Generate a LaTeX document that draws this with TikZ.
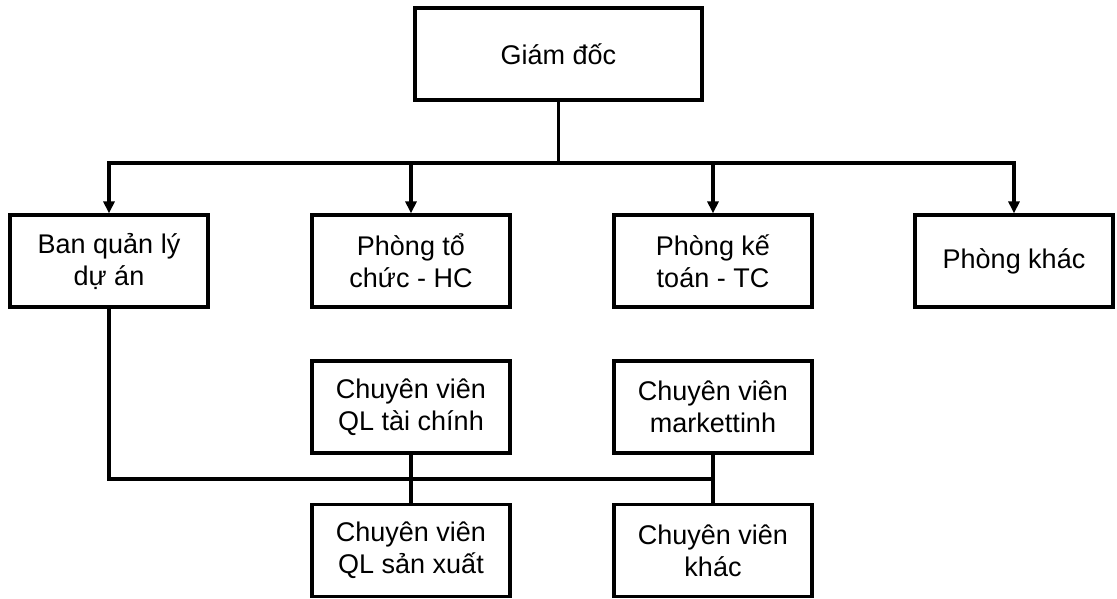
\documentclass[tikz,border=0pt]{standalone}
\usepackage{fontspec}
\setmainfont{Liberation Sans}
\usetikzlibrary{arrows.meta}
\begin{document}
\begin{tikzpicture}[x=1pt,y=-1pt,
  box/.style={draw,line width=3.2pt,minimum width=198pt,minimum height=92pt,
    align=center,inner sep=0pt,font=\fontsize{27}{32}\selectfont},
  link/.style={line width=3.2pt},
  arr/.style={link,-{Triangle[length=12pt,width=11pt]}}]
\useasboundingbox (0,0) rectangle (1117,599);
% director
\node[box,minimum width=287pt] (gd) at (558.5,54) {Giám đốc};
% departments
\node[box] (ban) at (109,261) {Ban quản lý\\dự án};
\node[box] (tc) at (411,261) {Phòng tổ\\chức - HC};
\node[box] (kt) at (713,261) {Phòng kế\\toán - TC};
\node[box] (pk) at (1014,261) {Phòng khác};
% specialists
\node[box] (cvtc) at (411,407) {Chuyên viên\\QL tài chính};
\node[box] (cvmk) at (713,407) {Chuyên viên\\markettinh};
\node[box] (cvsx) at (411,550.5) {Chuyên viên\\QL sản xuất};
\node[box] (cvk) at (713,550.5) {Chuyên viên\\khác};
% bus below the director
\coordinate (bus) at (558.5,163);
\draw[link] (gd.south) -- (bus);
\draw[arr] (bus) -| (ban.north);
\draw[arr] (bus) -| (tc.north);
\draw[arr] (bus) -| (kt.north);
\draw[arr] (bus) -| (pk.north);
% project board to specialists
\coordinate (low) at (713,479);
\draw[link] (ban.south) |- (low);
\draw[link] (cvtc.south) -- (cvsx.north);
\draw[link] (cvmk.south) -- (cvk.north);
\end{tikzpicture}
\end{document}
